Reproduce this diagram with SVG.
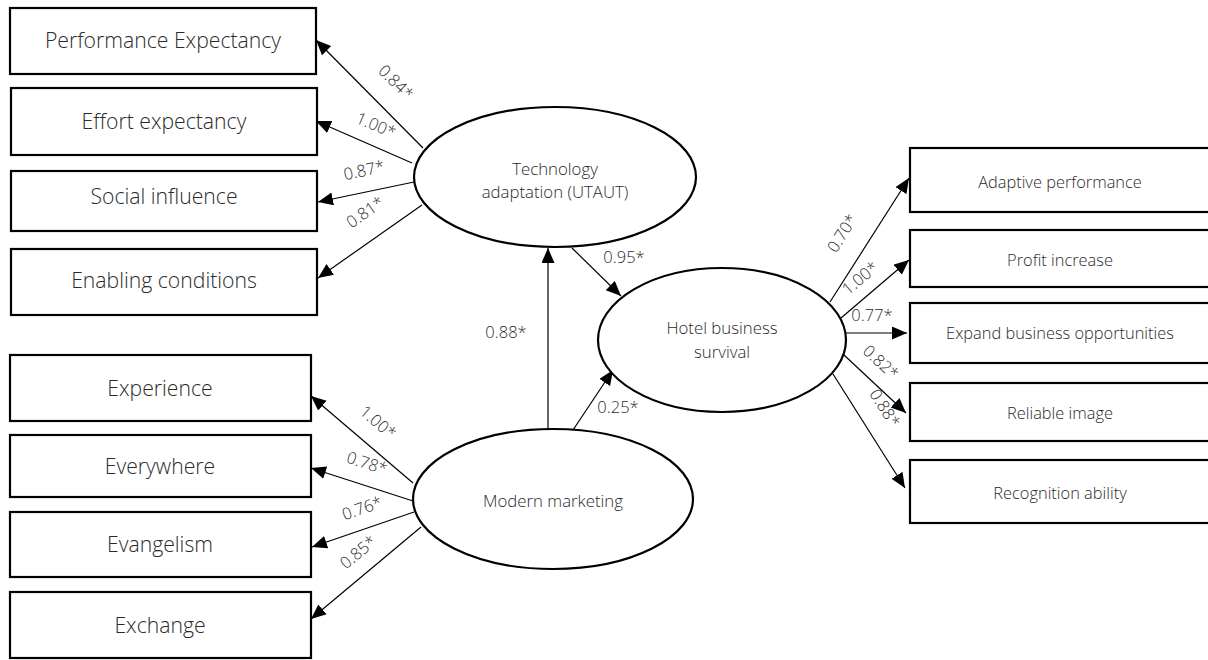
<svg xmlns="http://www.w3.org/2000/svg" width="1208" height="660" viewBox="0 0 1208 660">
<style>
.box{fill:#fff;stroke:#000;stroke-width:2.2}
.ell{fill:#fff;stroke:#000;stroke-width:2.2}
.lt{font-family:"Open Sans","Liberation Sans",sans-serif;font-weight:300;font-size:21.2px;fill:#2a2a2a;text-anchor:middle}
.rt{font-family:"Open Sans","Liberation Sans",sans-serif;font-weight:300;font-size:16.4px;fill:#2a2a2a;text-anchor:middle}
.et{font-family:"Open Sans","Liberation Sans",sans-serif;font-weight:300;font-size:16.8px;fill:#2a2a2a;text-anchor:middle}
.lb{font-family:"Open Sans","Liberation Sans",sans-serif;font-weight:300;font-size:16.5px;fill:#2a2a2a;text-anchor:middle}
.cn{stroke:#000;stroke-width:1.2;fill:none;marker-end:url(#ah)}
</style>
<defs>
<marker id="ah" markerUnits="userSpaceOnUse" markerWidth="16" markerHeight="14" refX="15" refY="6.5" orient="auto">
<path d="M0,0 L15,6.5 L0,13 z" fill="#000"/>
</marker>
</defs>
<rect width="1208" height="660" fill="#fff"/>

<g id="connectors">
<line class="cn" x1="423" y1="148" x2="316" y2="40"/>
<line class="cn" x1="412" y1="163" x2="316" y2="121"/>
<line class="cn" x1="414" y1="182" x2="318" y2="202"/>
<line class="cn" x1="422" y1="205" x2="318" y2="278"/>
<line class="cn" x1="413" y1="483" x2="311" y2="396"/>
<line class="cn" x1="413" y1="501" x2="311" y2="468"/>
<line class="cn" x1="414" y1="512" x2="312" y2="547"/>
<line class="cn" x1="421" y1="527" x2="311" y2="619"/>
<line class="cn" x1="548" y1="429" x2="548" y2="248"/>
<line class="cn" x1="572" y1="248" x2="621" y2="296"/>
<line class="cn" x1="573" y1="430" x2="613" y2="370"/>
<line class="cn" x1="830" y1="302" x2="909" y2="178"/>
<line class="cn" x1="841" y1="318" x2="909" y2="260"/>
<line class="cn" x1="843" y1="333" x2="907" y2="333"/>
<line class="cn" x1="844" y1="355" x2="906" y2="413"/>
<line class="cn" x1="833" y1="374" x2="905" y2="488"/>
<text class="lb" transform="rotate(45 396 82)" x="396" y="88">0.84*</text>
<text class="lb" transform="rotate(23.6 376 125)" x="376" y="131">1.00*</text>
<text class="lb" transform="rotate(-12 364 170)" x="364" y="176">0.87*</text>
<text class="lb" transform="rotate(-35 365 212)" x="365" y="218">0.81*</text>
<text class="lb" transform="rotate(40.5 378 422)" x="378" y="428">1.00*</text>
<text class="lb" transform="rotate(18 367 463)" x="367" y="469">0.78*</text>
<text class="lb" transform="rotate(-19 362 508)" x="362" y="514">0.76*</text>
<text class="lb" transform="rotate(-40 358 552)" x="358" y="558">0.85*</text>
<text class="lb" x="506" y="338">0.88*</text>
<text class="lb" x="624" y="263">0.95*</text>
<text class="lb" x="618" y="413">0.25*</text>
<text class="lb" transform="rotate(-58 842 233)" x="842" y="239">0.70*</text>
<text class="lb" transform="rotate(-40 860 278)" x="860" y="284">1.00*</text>
<text class="lb" x="872" y="321">0.77*</text>
<text class="lb" transform="rotate(43 881 362)" x="881" y="368">0.82*</text>
<text class="lb" transform="rotate(57.5 885 408)" x="885" y="414">0.88*</text>
</g>

<g id="n-perf"><rect class="box" x="10" y="8" width="306" height="66"/><text class="lt" x="163" y="48">Performance Expectancy</text></g>
<g id="n-effort"><rect class="box" x="11" y="88" width="306" height="67"/><text class="lt" x="164" y="129">Effort expectancy</text></g>
<g id="n-social"><rect class="box" x="11" y="171" width="306" height="60"/><text class="lt" x="164" y="204">Social influence</text></g>
<g id="n-enabling"><rect class="box" x="11" y="249" width="306" height="66"/><text class="lt" x="164" y="288">Enabling conditions</text></g>

<g id="n-experience"><rect class="box" x="10" y="355" width="301" height="66"/><text class="lt" x="160" y="396">Experience</text></g>
<g id="n-everywhere"><rect class="box" x="10" y="435" width="301" height="62"/><text class="lt" x="160" y="474">Everywhere</text></g>
<g id="n-evangelism"><rect class="box" x="10" y="512" width="301" height="65"/><text class="lt" x="160" y="552">Evangelism</text></g>
<g id="n-exchange"><rect class="box" x="10" y="592" width="301" height="66"/><text class="lt" x="160" y="633">Exchange</text></g>

<g id="n-tech"><ellipse class="ell" cx="555" cy="177" rx="141" ry="70"/><text class="et" x="555" y="175">Technology</text><text class="et" x="555" y="198">adaptation (UTAUT)</text></g>
<g id="n-hotel"><ellipse class="ell" cx="722" cy="340" rx="124" ry="72"/><text class="et" x="722" y="334">Hotel business</text><text class="et" x="722" y="358">survival</text></g>
<g id="n-marketing"><ellipse class="ell" cx="553" cy="499" rx="140" ry="70"/><text class="et" x="553" y="507">Modern marketing</text></g>

<g id="n-adaptive"><rect class="box" x="910" y="148" width="310" height="64"/><text class="rt" x="1060" y="188">Adaptive performance</text></g>
<g id="n-profit"><rect class="box" x="910" y="230" width="310" height="57"/><text class="rt" x="1060" y="266">Profit increase</text></g>
<g id="n-expand"><rect class="box" x="910" y="303" width="310" height="60"/><text class="rt" x="1060" y="339">Expand business opportunities</text></g>
<g id="n-reliable"><rect class="box" x="910" y="383" width="310" height="58"/><text class="rt" x="1060" y="419">Reliable image</text></g>
<g id="n-recognition"><rect class="box" x="910" y="460" width="310" height="63"/><text class="rt" x="1060" y="499">Recognition ability</text></g>
</svg>
